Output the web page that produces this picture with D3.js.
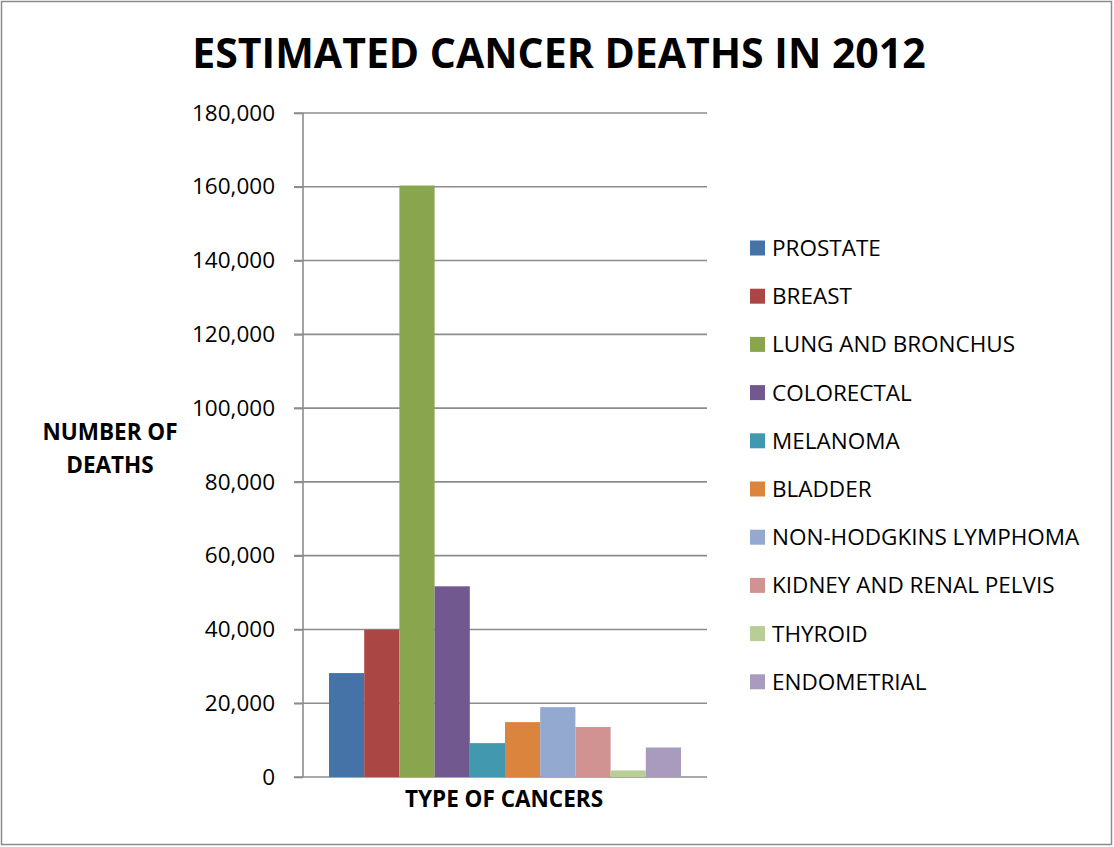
<!DOCTYPE html>
<html><head><meta charset="utf-8">
<script src="https://cdn.jsdelivr.net/npm/d3@7"></script>
<style>body{margin:0;background:#fff}svg{display:block}text{font-family:"Open Sans",sans-serif;fill:#000}</style>
</head><body><svg id="c" width="1114" height="847"></svg>
<script>
const categories = ["PROSTATE","BREAST","LUNG AND BRONCHUS","COLORECTAL","MELANOMA","BLADDER","NON-HODGKINS LYMPHOMA","KIDNEY AND RENAL PELVIS","THYROID","ENDOMETRIAL"];
const deaths = [28170,39920,160340,51690,9180,14880,18940,13570,1780,8010];
const colors = ["#4572A7","#AA4643","#89A54E","#71588F","#4198AF","#DB843D","#93A9CF","#D19392","#B9CD96","#A99BBD"];
const yTicks = [0,20000,40000,60000,80000,100000,120000,140000,160000,180000];
const title = "ESTIMATED CANCER DEATHS IN 2012";

const svg = d3.select("#c");
svg.append("rect").attr("x",1.5).attr("y",1.5).attr("width",1110).attr("height",843)
  .attr("fill","#fff").attr("stroke","#8a8a8a").attr("stroke-width",1.5);

const x0 = 303, x1 = 707, yTop = 113, yBot = 777;
const y = d3.scaleLinear().domain([0,180000]).range([yBot,yTop]);
const x = d3.scaleBand().domain(categories).range([329,681]).paddingInner(0).paddingOuter(0);

// gridlines
svg.append("g").selectAll("line").data(yTicks).join("line")
  .attr("x1",294).attr("x2",x1).attr("y1",d=>y(d)).attr("y2",d=>y(d))
  .attr("stroke","#8c8c8c").attr("stroke-width",1.6);

// axis
const ax = svg.append("g").attr("transform",`translate(${x0},0)`)
  .call(d3.axisLeft(y).tickValues(yTicks).tickSize(9).tickPadding(19).tickFormat(d3.format(",")));
ax.select(".domain").attr("stroke","#8c8c8c").attr("stroke-width",1.6).attr("d",`M0,${yTop}V${yBot}`);
ax.selectAll(".tick line").attr("stroke","#8c8c8c").attr("stroke-width",1.6);
ax.selectAll(".tick text").style("font-family","'Open Sans',sans-serif").style("font-size","22.5px").attr("fill","#000");

// bars
svg.append("g").selectAll("rect").data(categories).join("rect")
  .attr("x",d=>x(d)).attr("width",x.bandwidth())
  .attr("y",(d,i)=>y(deaths[i])).attr("height",(d,i)=>yBot-y(deaths[i]))
  .attr("fill",(d,i)=>colors[i]);

// title
svg.append("text").attr("x",559).attr("y",68).attr("text-anchor","middle")
  .style("font-size","41px").style("font-weight","bold").text(title);

// y axis title
const yt = svg.append("text").attr("text-anchor","middle").style("font-size","22.5px").style("font-weight","bold");
yt.append("tspan").attr("x",110).attr("y",440).text("NUMBER OF");
yt.append("tspan").attr("x",110).attr("y",473).text("DEATHS");

// x axis title
svg.append("text").attr("x",504).attr("y",807).attr("text-anchor","middle")
  .style("font-size","22.5px").style("font-weight","bold").text("TYPE OF CANCERS");

// legend
const lg = svg.append("g").selectAll("g").data(categories).join("g")
  .attr("transform",(d,i)=>`translate(750,${248 + i*48.2})`);
lg.append("rect").attr("x",0).attr("y",-7.5).attr("width",15).attr("height",15).attr("fill",(d,i)=>colors[i]);
lg.append("text").attr("x",22).attr("y",8).style("font-size","22.5px").text(d=>d);
</script></body></html>
